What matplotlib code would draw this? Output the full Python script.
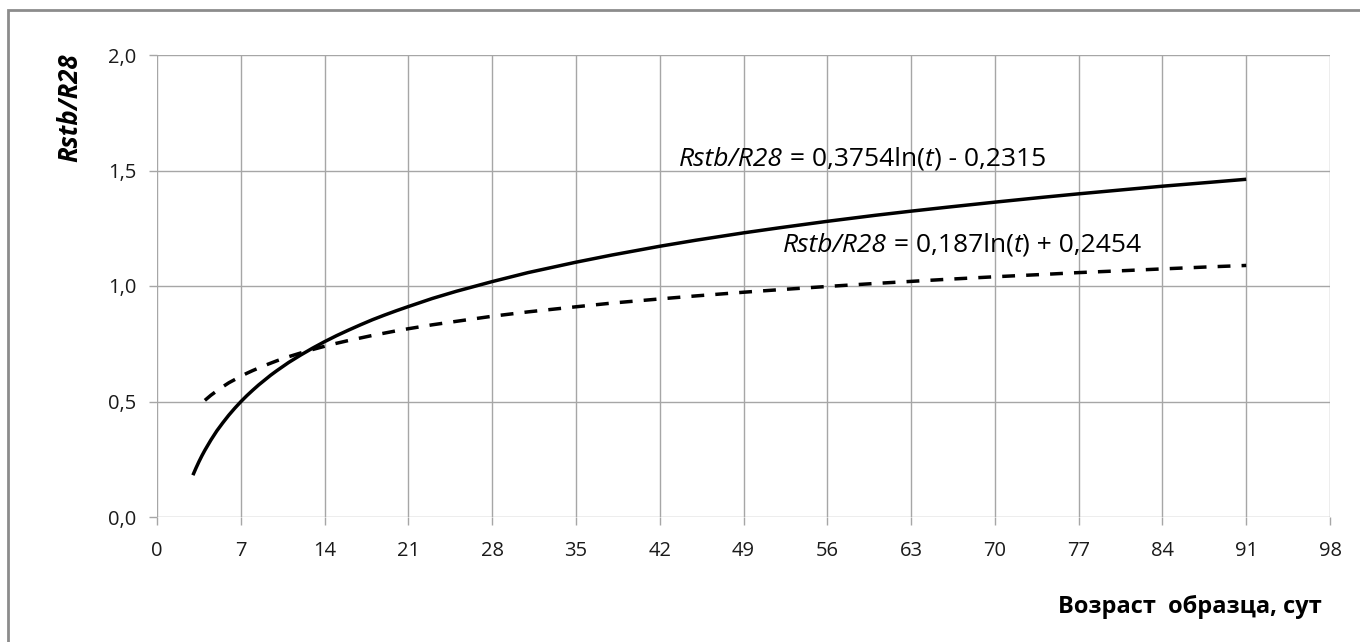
import matplotlib.pyplot as plt
from matplotlib.patches import Rectangle

# точки (Rstb/R28 по возрасту образца)
t_solid = [3, 3.25, 3.5, 3.75, 4, 4.5, 5, 5.5, 6, 6.5, 7, 7.5, 8, 8.5, 9,
           9.5, 10, 11, 12, 13, 14, 15, 16, 17, 18, 19, 20, 21, 23, 25, 28,
           31, 35, 38, 42, 45, 49, 52, 56, 60, 63, 66, 70, 74, 77, 81, 84,
           88, 91]
r_solid = [0.181, 0.211, 0.239, 0.265, 0.289, 0.333, 0.373, 0.408, 0.441,
           0.471, 0.499, 0.525, 0.549, 0.572, 0.593, 0.614, 0.633, 0.669,
           0.701, 0.731, 0.759, 0.785, 0.809, 0.832, 0.854, 0.874, 0.893,
           0.911, 0.946, 0.977, 1.019, 1.058, 1.103, 1.134, 1.172, 1.198,
           1.230, 1.252, 1.280, 1.306, 1.324, 1.341, 1.363, 1.384, 1.399,
           1.418, 1.432, 1.449, 1.462]

t_dash = [4, 4.5, 5, 5.5, 6, 6.5, 7, 7.5, 8, 9, 10, 11, 12, 13, 14, 15, 16,
          17, 18, 19, 20, 21, 23, 25, 28, 31, 35, 38, 42, 45, 49, 52, 56, 60,
          63, 66, 70, 74, 77, 81, 84, 88, 91]
r_dash = [0.505, 0.527, 0.546, 0.564, 0.581, 0.595, 0.609, 0.622, 0.634,
          0.656, 0.676, 0.694, 0.710, 0.725, 0.739, 0.752, 0.764, 0.775,
          0.786, 0.796, 0.806, 0.815, 0.832, 0.847, 0.869, 0.888, 0.910,
          0.926, 0.944, 0.957, 0.973, 0.984, 0.998, 1.011, 1.020, 1.029,
          1.040, 1.050, 1.058, 1.067, 1.074, 1.083, 1.089]

x_ticks = list(range(0, 99, 7))
y_ticks = [0.0, 0.5, 1.0, 1.5, 2.0]

plt.rcParams['font.family'] = ['Open Sans', 'DejaVu Sans']
W, H = 1360, 642

fig = plt.figure(figsize=(13.6, 6.42), dpi=100)
ax = fig.add_axes([157 / W, 1 - 517 / H, (1330 - 157) / W, (517 - 55) / H])

ax.plot(t_solid, r_solid, color='black', lw=2.5, solid_capstyle='butt')
ax.plot(t_dash, r_dash, color='black', lw=2.5, dashes=(3.7, 3.2))

ax.set_xlim(0, 98)
ax.set_ylim(0, 2.0)
ax.set_xticks(x_ticks)
ax.set_yticks(y_ticks)
ax.set_yticklabels([f"{v:.1f}".replace('.', ',') for v in y_ticks])
ax.grid(True, color='#a6a6a6', lw=1)
ax.set_axisbelow(True)
for s in ax.spines.values():
    s.set_visible(False)
ax.tick_params(direction='out', length=6, width=1, color='#a6a6a6',
               labelsize=14.5, labelcolor='#1a1a1a')
ax.tick_params(axis='x', pad=11)
ax.tick_params(axis='y', pad=9)


def equation(xpix, ypix, a, b):
    # подпись уравнения из кусков: курсив + обычный текст
    parts = [('Rstb/R28', 'italic'), (' = ' + a + 'ln(', 'normal'),
             ('t', 'italic'), (') ' + b, 'normal')]
    renderer = fig.canvas.get_renderer()
    x = xpix
    for s, st in parts:
        tx = fig.text(x / W, 1 - ypix / H, s, style=st, fontsize=19,
                      ha='left', va='center')
        x += tx.get_window_extent(renderer).width


equation(679, 159, '0,3754', '- 0,2315')
equation(783, 245, '0,187', '+ 0,2454')

fig.text(70 / W, 1 - 108 / H, 'Rstb/R28', rotation=90, fontsize=18.5,
         fontweight='bold', style='italic', ha='center', va='center')
fig.text(1322 / W, 1 - 607 / H, 'Возраст  образца, сут', fontsize=17,
         fontweight='bold', ha='right', va='center')

fig.patches.append(Rectangle((8 / W, -0.1), 1.2, 1 - 10 / H + 0.1,
                             transform=fig.transFigure, fill=False,
                             edgecolor='#8c8c8c', lw=2))

fig.savefig('out.png', dpi=100)
